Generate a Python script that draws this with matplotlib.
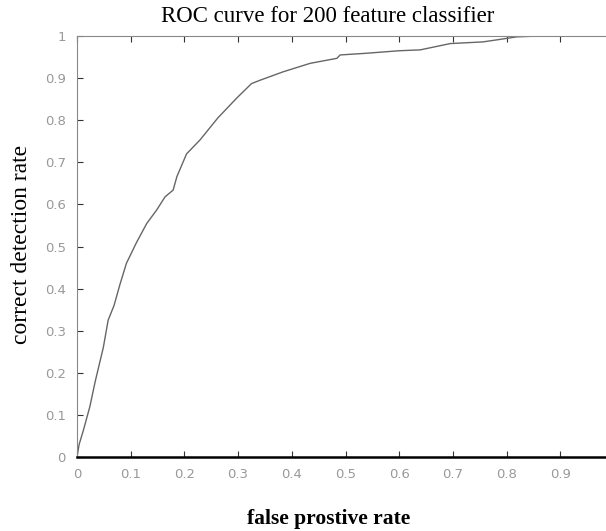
import numpy as np
import matplotlib
matplotlib.use('Agg')
import matplotlib.pyplot as plt

# ROC points
fpr = [0.0, 0.004, 0.012, 0.024, 0.034, 0.049, 0.058, 0.069, 0.080, 0.092,
       0.111, 0.130, 0.148, 0.164, 0.179, 0.186, 0.204, 0.229, 0.262, 0.297,
       0.325, 0.341, 0.384, 0.434, 0.484, 0.490, 0.539, 0.600, 0.639, 0.695,
       0.756, 0.788, 0.819, 0.860, 0.920, 1.0]
tpr = [0.0, 0.03, 0.064, 0.12, 0.18, 0.26, 0.325, 0.36, 0.41, 0.46,
       0.51, 0.555, 0.586, 0.618, 0.634, 0.666, 0.72, 0.753, 0.805, 0.852,
       0.887, 0.895, 0.915, 0.935, 0.947, 0.955, 0.959, 0.965, 0.967, 0.982,
       0.986, 0.992, 0.998, 1.0, 1.0, 1.0]
xticks = [0, 0.1, 0.2, 0.3, 0.4, 0.5, 0.6, 0.7, 0.8, 0.9, 1.0]
yticks = [0, 0.1, 0.2, 0.3, 0.4, 0.5, 0.6, 0.7, 0.8, 0.9, 1.0]

fig = plt.figure(figsize=(6.06, 5.31), dpi=100)
ax = fig.add_axes([77/606, 74/531, 537/606, 421/531])

ax.plot(fpr, tpr, color='#666666', lw=1.0)

ax.set_xlim(0, 1)
ax.set_ylim(0, 1)
ax.set_xticks(xticks)
ax.set_yticks(yticks)
# the last x label falls outside the scanned page
ax.set_xticklabels(['%g' % t for t in xticks[:-1]] + [''])
ax.set_yticklabels(['%g' % t for t in yticks])
ax.tick_params(direction='in', length=4, width=0.8, color='#333333',
               labelcolor='#999999', labelsize=9.5, top=True, right=False)
ax.tick_params(axis='x', pad=8)
ax.tick_params(axis='y', pad=8)

ax.spines['right'].set_visible(False)
ax.spines['bottom'].set_linewidth(1.8)
ax.spines['bottom'].set_color('black')
ax.spines['left'].set_color('#888888')
ax.spines['top'].set_color('#888888')

ax.set_title('ROC curve for 200 feature classifier', family='Liberation Serif',
             fontsize=16.5, x=(328-77)/537, pad=10)
ax.set_ylabel('correct detection rate', family='Liberation Serif', fontsize=17)
ax.set_xlabel('false prostive rate', family='Liberation Serif', fontsize=15.5,
              fontweight='bold')
ax.xaxis.set_label_coords((329-77)/537, -(509-457)/421)
ax.yaxis.set_label_coords(-(77-32)/537, 0.505)

fig.savefig('out.png', dpi=100)
